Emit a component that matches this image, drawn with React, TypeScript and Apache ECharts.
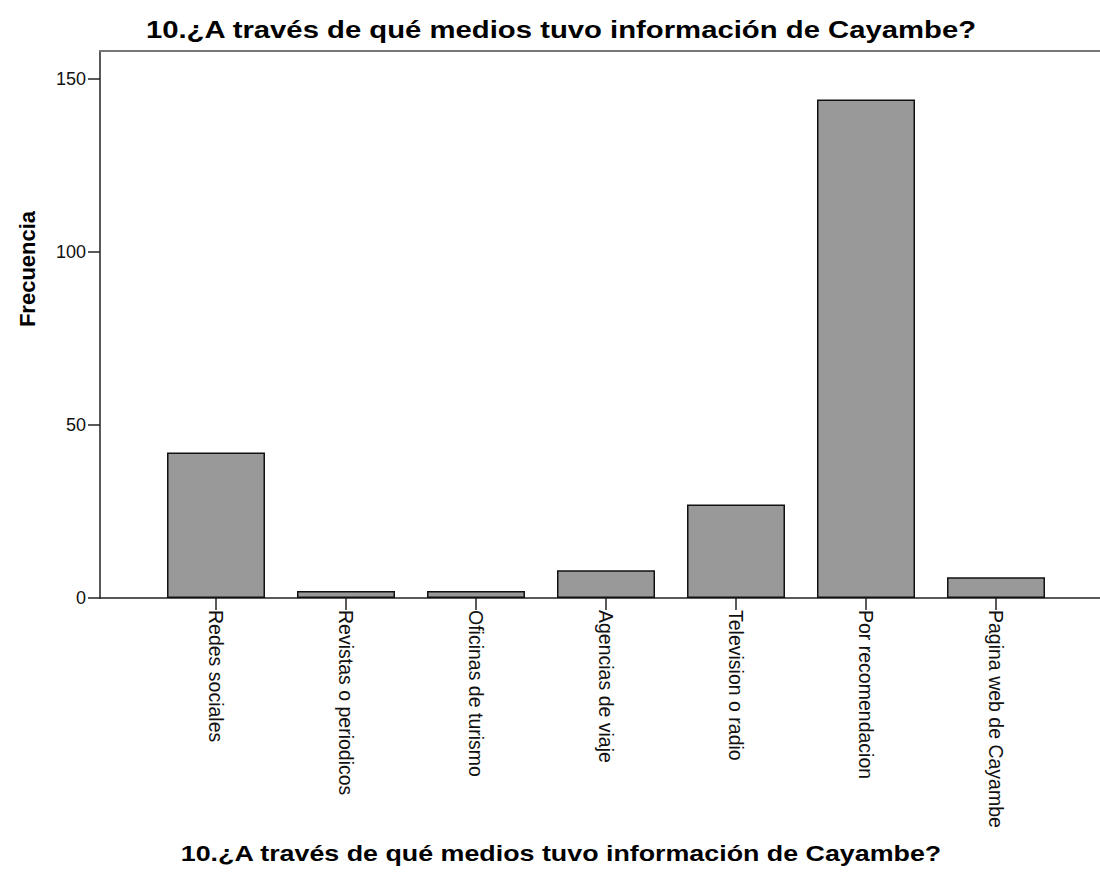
import React, { useEffect, useRef } from "react";
import * as echarts from "echarts";

const chartTitle = "10.¿A través de qué medios tuvo información de Cayambe?";
const yAxisTitle = "Frecuencia";
const categories = [
  "Redes sociales",
  "Revistas o periodicos",
  "Oficinas de turismo",
  "Agencias de viaje",
  "Television o radio",
  "Por recomendacion",
  "Pagina web de Cayambe",
];
const frequencies = [42, 2, 2, 8, 27, 144, 6];
const yTicks = [0, 50, 100, 150];
const yMax = 158;

const FONT = '"Liberation Sans", Arial, sans-serif';

export default function App() {
  const ref = useRef<HTMLDivElement>(null);
  useEffect(() => {
    if (!ref.current) return;
    const chart = echarts.init(ref.current, null, { renderer: "svg" });
    chart.setOption({
      animation: false,
      backgroundColor: "#ffffff",
      grid: [
        { left: 100, right: -20, top: 51, bottom: 278 },
        { left: 151, right: 39, top: 51, bottom: 278 },
      ],
      xAxis: [
        {
          gridIndex: 0,
          type: "value",
          min: 0,
          max: 1,
          axisLine: { show: true, lineStyle: { color: "#222", width: 1.5 } },
          axisTick: { show: false },
          axisLabel: { show: false },
          splitLine: { show: false },
        },
        {
          gridIndex: 0,
          type: "value",
          position: "top",
          min: 0,
          max: 1,
          axisLine: { show: true, onZero: false, lineStyle: { color: "#777", width: 2 } },
          axisTick: { show: false },
          axisLabel: { show: false },
          splitLine: { show: false },
        },
        {
          gridIndex: 1,
          type: "category",
          data: categories,
          axisLine: { show: false },
          axisTick: { show: true, alignWithLabel: true, length: 12, lineStyle: { color: "#222", width: 1.5 } },
          axisLabel: { rotate: -90, margin: 12, fontSize: 19.5, color: "#111", fontFamily: FONT, interval: 0 },
          splitLine: { show: false },
        },
      ],
      yAxis: [
        {
          gridIndex: 0,
          type: "value",
          min: 0,
          max: yMax,
          axisLine: { show: true, lineStyle: { color: "#222", width: 1.5 } },
          axisTick: { show: true, length: 12, customValues: yTicks, lineStyle: { color: "#222", width: 1.5 } },
          axisLabel: { customValues: yTicks, margin: 14, fontSize: 18, color: "#111", fontFamily: FONT },
          splitLine: { show: false },
        },
        { gridIndex: 1, type: "value", min: 0, max: yMax, show: false, splitLine: { show: false } },
      ],
      series: [
        {
          type: "bar",
          xAxisIndex: 2,
          yAxisIndex: 1,
          data: frequencies,
          barWidth: 98,
          itemStyle: { color: "#999999", borderColor: "#111", borderWidth: 1.5 },
        },
      ],
      graphic: [
        {
          type: "text",
          x: 561,
          y: 30,
          scaleX: 1.22,
          style: {
            text: chartTitle,
            font: `bold 24px ${FONT}`,
            fill: "#000",
            textAlign: "center",
            verticalAlign: "middle",
          },
        },
        {
          type: "text",
          x: 561,
          y: 853,
          scaleX: 1.22,
          style: {
            text: chartTitle,
            font: `bold 22px ${FONT}`,
            fill: "#000",
            textAlign: "center",
            verticalAlign: "middle",
          },
        },
        {
          type: "text",
          x: 27,
          y: 269,
          rotation: Math.PI / 2,
          style: {
            text: yAxisTitle,
            font: `bold 22px ${FONT}`,
            fill: "#000",
            textAlign: "center",
            verticalAlign: "middle",
          },
        },
      ],
    });
    return () => chart.dispose();
  }, []);
  return (
    <div
      ref={ref}
      style={{ position: "absolute", left: 0, top: 0, width: 1100, height: 876, background: "#fff" }}
    />
  );
}
